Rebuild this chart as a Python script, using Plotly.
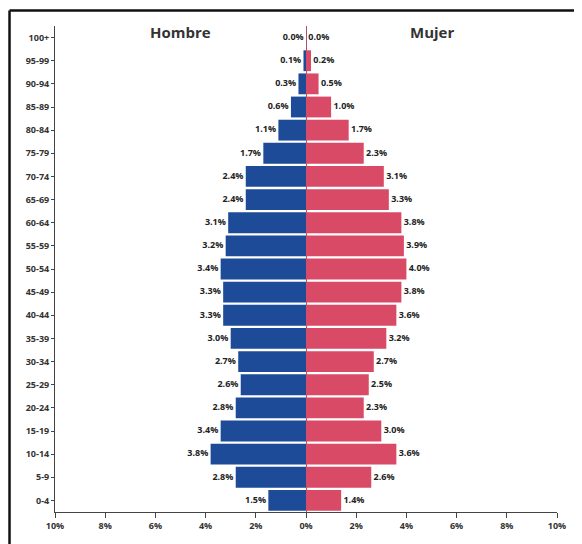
import plotly.graph_objects as go

age_groups = ["0-4", "5-9", "10-14", "15-19", "20-24", "25-29", "30-34", "35-39",
              "40-44", "45-49", "50-54", "55-59", "60-64", "65-69", "70-74", "75-79",
              "80-84", "85-89", "90-94", "95-99", "100+"]
male_pct = [1.5, 2.8, 3.8, 3.4, 2.8, 2.6, 2.7, 3.0, 3.3, 3.3, 3.4, 3.2, 3.1, 2.4,
            2.4, 1.7, 1.1, 0.6, 0.3, 0.1, 0.0]
female_pct = [1.4, 2.6, 3.6, 3.0, 2.3, 2.5, 2.7, 3.2, 3.6, 3.8, 4.0, 3.9, 3.8, 3.3,
              3.1, 2.3, 1.7, 1.0, 0.5, 0.2, 0.0]
x_tick_vals = [-10, -8, -6, -4, -2, 0, 2, 4, 6, 8, 10]
x_tick_text = ["10%", "8%", "6%", "4%", "2%", "0%", "2%", "4%", "6%", "8%", "10%"]

BLUE = "#1d4b98"
RED = "#d94a66"
FONT = "Open Sans"

fig = go.Figure()
fig.add_trace(go.Bar(y=age_groups, x=[-v for v in male_pct], orientation="h",
                     marker=dict(color=BLUE, line=dict(width=0)), name="Hombre",
                     hoverinfo="skip"))
fig.add_trace(go.Bar(y=age_groups, x=female_pct, orientation="h",
                     marker=dict(color=RED, line=dict(width=0)), name="Mujer",
                     hoverinfo="skip"))
fig.add_trace(go.Scatter(y=age_groups, x=[-v for v in male_pct], mode="text",
                         text=[f"{v:.1f}% " for v in male_pct],
                         textposition="middle left",
                         textfont=dict(family=FONT, size=9, color="#222222", weight="bold"),
                         hoverinfo="skip"))
fig.add_trace(go.Scatter(y=age_groups, x=female_pct, mode="text",
                         text=[f" {v:.1f}%" for v in female_pct],
                         textposition="middle right",
                         textfont=dict(family=FONT, size=9, color="#222222", weight="bold"),
                         hoverinfo="skip"))

fig.update_layout(
    width=574, height=536,
    margin=dict(l=47, r=25, t=18, b=32),
    barmode="relative",
    bargap=0.1,
    showlegend=False,
    plot_bgcolor="white",
    paper_bgcolor="white",
    font=dict(family=FONT, size=9, color="#333333"),
    xaxis=dict(range=[-10, 10], tickvals=x_tick_vals, ticktext=x_tick_text,
               showgrid=False, zeroline=True, zerolinecolor="#b05070", zerolinewidth=1,
               showline=True, linecolor="#444444", linewidth=1,
               ticks="outside", ticklen=5, tickcolor="#444444",
               tickfont=dict(family=FONT, size=9, color="#333333", weight="bold")),
    yaxis=dict(categoryorder="array", categoryarray=age_groups,
               range=[-0.5, 20.5], showgrid=False,
               showline=True, linecolor="#444444", linewidth=1,
               ticks="outside", ticklen=3, tickcolor="#444444",
               tickfont=dict(family=FONT, size=9, color="#333333", weight="bold")),
    annotations=[
        dict(x=-5, y=20.25, xref="x", yref="y", text="Hombre", showarrow=False,
             font=dict(family=FONT, size=15, color="#333333", weight="bold")),
        dict(x=5, y=20.25, xref="x", yref="y", text="Mujer", showarrow=False,
             font=dict(family=FONT, size=15, color="#333333", weight="bold")),
    ],
    shapes=[
        dict(type="line", xref="paper", yref="paper",
             x0=-0.0906, x1=1.5, y0=1.032, y1=1.032,
             line=dict(color="#111111", width=2.5), layer="above"),
        dict(type="line", xref="paper", yref="paper",
             x0=-0.0906, x1=-0.0906, y0=-0.5, y1=1.032,
             line=dict(color="#111111", width=2.5), layer="above"),
    ],
)

fig.write_html("out.html")
